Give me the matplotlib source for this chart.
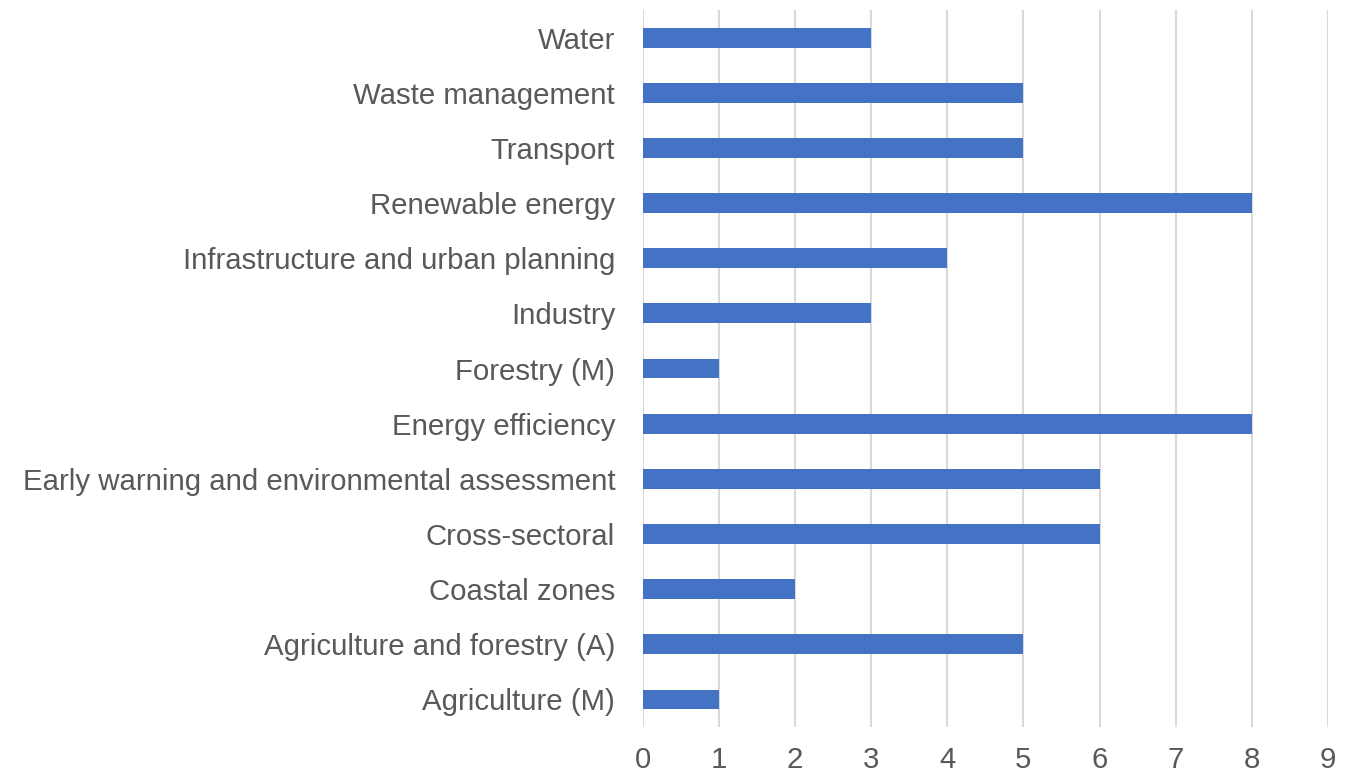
import matplotlib
matplotlib.use("Agg")
import matplotlib.pyplot as plt

categories = [
    "Agriculture (M)",
    "Agriculture and forestry (A)",
    "Coastal zones",
    "Cross-sectoral",
    "Early warning and environmental assessment",
    "Energy efficiency",
    "Forestry (M)",
    "Industry",
    "Infrastructure and urban planning",
    "Renewable energy",
    "Transport",
    "Waste management",
    "Water",
]
counts = [1, 5, 2, 6, 6, 8, 1, 3, 4, 8, 5, 5, 3]
xticks = list(range(0, 10))

plt.rcParams["font.family"] = ["Liberation Sans", "DejaVu Sans"]

fig = plt.figure(figsize=(13.55, 7.74), dpi=100)
ax = fig.add_axes([0.4745, 0.0607, 0.5055, 0.9263])

ax.barh(range(len(categories)), counts, height=0.36, color="#4472C4", zorder=3)

ax.set_xlim(0, 9)
ax.set_ylim(-0.5, len(categories) - 0.5)
ax.set_xticks(xticks)
ax.set_yticks(range(len(categories)))
ax.set_yticklabels(categories)

ax.grid(axis="x", color="#D9D9D9", linewidth=1.5, zorder=0)
ax.grid(axis="y", visible=False)
for s in ax.spines.values():
    s.set_visible(False)

ax.tick_params(axis="both", length=0, labelsize=21.2, labelcolor="#595959")
ax.tick_params(axis="x", pad=13.5)
ax.tick_params(axis="y", pad=20)

fig.savefig("out.png", dpi=100, facecolor="white")
